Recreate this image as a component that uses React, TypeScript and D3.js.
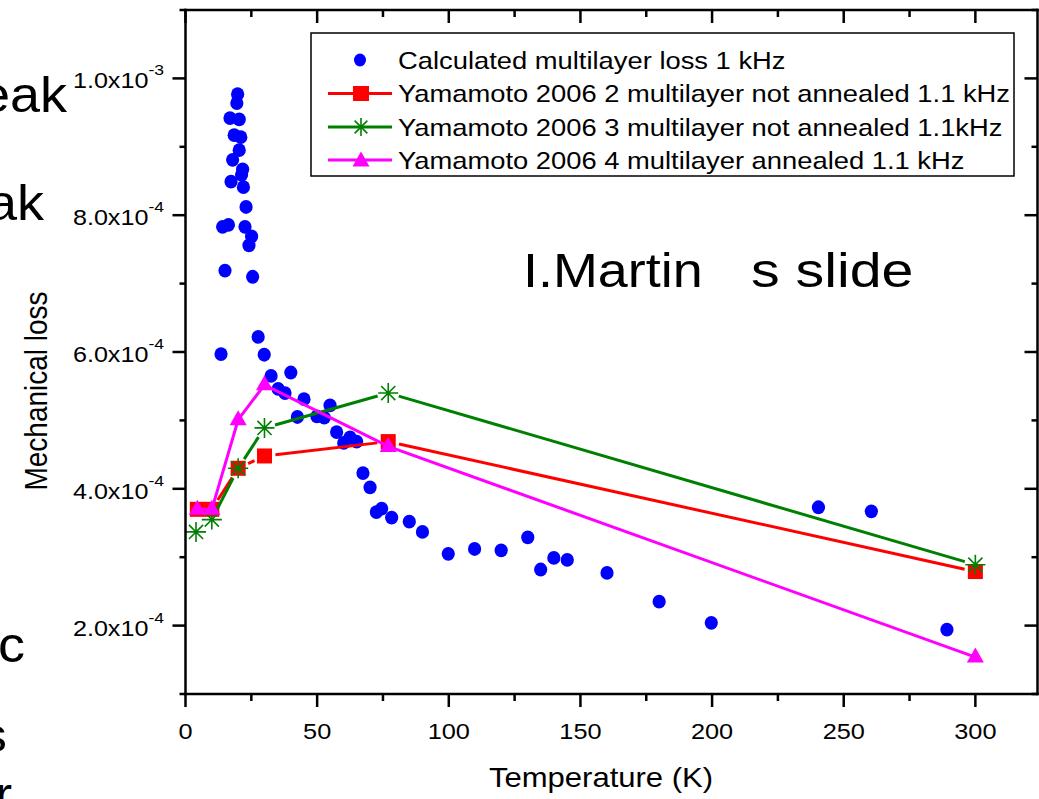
import React from 'react';
import * as d3 from 'd3';

const W = 1039;
const H = 799;
const FONT = "'Liberation Sans', Arial, Helvetica, sans-serif";

// Calculated multilayer loss 1 kHz (loss in units of 1e-4)
const calcT = [19.8, 19.5, 16.9, 20.4, 18.5, 21.0, 20.4, 17.9, 21.7, 21.3, 17.3, 22.0, 23.0, 14.1, 16.3, 22.6, 25.1, 24.1, 15.0, 25.5, 27.6, 13.5, 29.9, 32.5, 40.0, 35.2, 37.8, 45.0, 54.9, 42.5, 49.9, 52.7, 57.4, 60.1, 62.5, 65.0, 67.4, 70.1, 72.5, 74.5, 78.3, 85.0, 90.0, 99.8, 109.8, 119.9, 130.0, 134.9, 139.9, 145.0, 160.1, 179.9, 199.7, 240.4, 260.5, 289.2];
const calcLoss = [9.77, 9.64, 9.42, 9.40, 9.17, 9.14, 8.95, 8.81, 8.67, 8.59, 8.49, 8.41, 8.12, 7.83, 7.86, 7.83, 7.69, 7.56, 7.19, 7.10, 6.22, 5.97, 5.96, 5.65, 5.70, 5.46, 5.40, 5.31, 5.22, 5.05, 5.06, 5.04, 4.83, 4.67, 4.75, 4.69, 4.23, 4.02, 3.66, 3.71, 3.58, 3.52, 3.37, 3.05, 3.12, 3.10, 3.29, 2.82, 2.99, 2.96, 2.77, 2.35, 2.04, 3.73, 3.67, 1.94];

// Yamamoto 2006 2 multilayer not annealed 1.1 kHz
const y2T = [4.5, 10, 20, 30, 77, 300];
const y2Loss = [3.70, 3.70, 4.30, 4.48, 4.69, 2.79];
// Yamamoto 2006 3 multilayer not annealed 1.1kHz
const y3T = [4, 10, 20, 30, 77, 300];
const y3Loss = [3.37, 3.55, 4.30, 4.89, 5.40, 2.89];
// Yamamoto 2006 4 multilayer annealed 1.1 kHz
const y4T = [4.5, 10, 20, 30, 77, 300];
const y4Loss = [3.70, 3.70, 5.01, 5.52, 4.62, 1.54];

const legendLabels = [
  'Calculated multilayer loss 1 kHz',
  'Yamamoto 2006 2 multilayer not annealed 1.1 kHz',
  'Yamamoto 2006 3 multilayer not annealed 1.1kHz',
  'Yamamoto 2006 4 multilayer annealed 1.1 kHz',
];

const xMajor = [0, 50, 100, 150, 200, 250, 300];
const xMinor = [25, 75, 125, 175, 225, 275];
const yMajor = [2, 4, 6, 8, 10]; // ×1e-4
const yMinor = [1, 3, 5, 7, 9, 11];
const yMant = ['2.0x10', '4.0x10', '6.0x10', '8.0x10', '1.0x10'];
const yExp = ['-4', '-4', '-4', '-4', '-3'];

const BLUE = '#0000ff';
const RED = '#ff0000';
const GREEN = '#008000';
const MAGENTA = '#ff00ff';

function starPath(r: number) {
  const d = r * 0.7071;
  return `M0,${-r}V${r}M${-r},0H${r}M${-d},${-d}L${d},${d}M${-d},${d}L${d},${-d}`;
}
const triPath = 'M0,-9.5L8.5,5.5L-8.5,5.5Z';

function gapSegments(pts: [number, number][], gap: number) {
  const segs: [number, number, number, number][] = [];
  for (let i = 0; i < pts.length - 1; i++) {
    const [x0, y0] = pts[i];
    const [x1, y1] = pts[i + 1];
    const dx = x1 - x0, dy = y1 - y0;
    const len = Math.hypot(dx, dy);
    if (len <= 2 * gap + 1) continue;
    const ux = dx / len, uy = dy / len;
    segs.push([x0 + ux * gap, y0 + uy * gap, x1 - ux * gap, y1 - uy * gap]);
  }
  return segs;
}

function SText(props: { x: number; y: number; size: number; sx?: number; anchor?: string; children: React.ReactNode; family?: string; fill?: string }) {
  const { x, y, size, sx = 1.15, anchor = 'start', children, family = FONT, fill = '#000' } = props;
  return (
    <g transform={`translate(${x},${y}) scale(${sx},1)`}>
      <text x={0} y={0} fontSize={size} textAnchor={anchor as any} fontFamily={family} fill={fill}>
        {children}
      </text>
    </g>
  );
}

export default function App() {
  const x = d3.scaleLinear().domain([0, 323.6]).range([185.5, 1037.5]);
  const y = d3.scaleLinear().domain([1e-4, 1.1e-3]).range([694, 10]);
  const e4 = (v: number) => v * 1e-4;

  const left = x(0), right = x(323.6), top = y(1.1e-3), bottom = y(1e-4);

  const p2 = y2T.map((t, i) => [x(t), y(e4(y2Loss[i]))] as [number, number]);
  const p3 = y3T.map((t, i) => [x(t), y(e4(y3Loss[i]))] as [number, number]);
  const p4 = y4T.map((t, i) => [x(t), y(e4(y4Loss[i]))] as [number, number]);
  const line = d3.line();

  const legX0 = 328, legX1 = 392, legMid = 361, legTextX = 398;
  const legY = [60, 93.5, 127, 160];

  return (
    <svg width={W} height={H} style={{ position: 'absolute', left: 0, top: 0, background: '#fff' }}>
      <rect x={0} y={0} width={W} height={H} fill="#fff" />

      {/* cropped slide text fragments on the left */}
      <SText x={67} y={112} size={50} sx={1.08} anchor="end">eak</SText>
      <SText x={44} y={220} size={50} sx={1.08} anchor="end">ak</SText>
      <SText x={25} y={662} size={50} sx={1.08} anchor="end">c</SText>
      <SText x={7} y={752} size={48} sx={1.08} anchor="end">s</SText>
      <SText x={12} y={810} size={46} sx={1.08} anchor="end">r</SText>

      {/* data: calculated */}
      <g fill={BLUE}>
        {calcT.map((t, i) => (
          <ellipse key={i} cx={x(t)} cy={y(e4(calcLoss[i]))} rx={6.6} ry={6.9} />
        ))}
      </g>

      {/* Yamamoto 2 */}
      <g stroke={RED} strokeWidth={3} fill="none">
        {gapSegments(p2, 11).map((s, i) => (
          <line key={i} x1={s[0]} y1={s[1]} x2={s[2]} y2={s[3]} />
        ))}
      </g>
      <g fill={RED}>
        {p2.map((p, i) => (
          <rect key={i} x={p[0] - 7.5} y={p[1] - 7.5} width={15} height={15} />
        ))}
      </g>

      {/* Yamamoto 3 */}
      <g stroke={GREEN} strokeWidth={3} fill="none">
        {gapSegments(p3, 11).map((s, i) => (
          <line key={i} x1={s[0]} y1={s[1]} x2={s[2]} y2={s[3]} />
        ))}
      </g>
      <g stroke={GREEN} strokeWidth={1.6} fill="none">
        {p3.map((p, i) => (
          <path key={i} d={starPath(10)} transform={`translate(${p[0]},${p[1]})`} />
        ))}
      </g>

      {/* Yamamoto 4 */}
      <path d={line(p4) || ''} stroke={MAGENTA} strokeWidth={3} fill="none" />
      <g fill={MAGENTA}>
        {p4.map((p, i) => (
          <path key={i} d={triPath} transform={`translate(${p[0]},${p[1]})`} />
        ))}
      </g>

      {/* frame */}
      <g stroke="#000" strokeWidth={2.5} fill="none" strokeLinecap="square">
        <line x1={left} y1={top} x2={right} y2={top} />
        <line x1={left} y1={bottom} x2={right} y2={bottom} />
        <line x1={left} y1={top} x2={left} y2={bottom} />
        <line x1={right} y1={top} x2={right} y2={bottom} />
      </g>
      <g stroke="#000" strokeWidth={2.5}>
        {xMajor.map((t) => (
          <g key={'xm' + t}>
            <line x1={x(t)} x2={x(t)} y1={bottom} y2={bottom + 13} />
            <line x1={x(t)} x2={x(t)} y1={top} y2={top + 13} />
          </g>
        ))}
        {xMinor.map((t) => (
          <g key={'xn' + t}>
            <line x1={x(t)} x2={x(t)} y1={bottom} y2={bottom + 7} />
            <line x1={x(t)} x2={x(t)} y1={top} y2={top + 7} />
          </g>
        ))}
        {yMajor.map((v) => (
          <g key={'ym' + v}>
            <line x1={left - 13} x2={left} y1={y(e4(v))} y2={y(e4(v))} />
            <line x1={right - 13} x2={right} y1={y(e4(v))} y2={y(e4(v))} />
          </g>
        ))}
        {yMinor.map((v) => (
          <g key={'yn' + v}>
            <line x1={left - 6} x2={left} y1={y(e4(v))} y2={y(e4(v))} />
            <line x1={right - 6} x2={right} y1={y(e4(v))} y2={y(e4(v))} />
          </g>
        ))}
      </g>

      {/* tick labels */}
      {xMajor.map((t) => (
        <SText key={'xl' + t} x={x(t)} y={739} size={22} sx={1.15} anchor="middle">{String(t)}</SText>
      ))}
      {yMajor.map((v, i) => (
        <SText key={'yl' + v} x={164} y={y(e4(v)) + 10} size={21.5} sx={1.17} anchor="end">
          {yMant[i]}
          <tspan dy={-13} fontSize={15}>{yExp[i]}</tspan>
        </SText>
      ))}

      {/* axis titles */}
      <SText x={601} y={787} size={27} sx={1.15} anchor="middle">Temperature (K)</SText>
      <g transform="translate(47,391) rotate(-90) scale(1,1.1)">
        <text x={0} y={0} fontSize={28} textAnchor="middle" fontFamily={FONT}>Mechanical loss</text>
      </g>

      {/* annotation */}
      <SText x={523} y={287} size={49} sx={1.1}>I.Martin</SText>
      <SText x={751} y={287} size={49} sx={1.17}>s slide</SText>

      {/* legend */}
      <rect x={311} y={33} width={703} height={143} fill="#fff" stroke="#000" strokeWidth={1.5} />
      <ellipse cx={legMid - 1} cy={legY[0]} rx={6} ry={6.5} fill={BLUE} />
      <line x1={legX0} x2={legX1} y1={legY[1]} y2={legY[1]} stroke={RED} strokeWidth={3} />
      <rect x={legMid - 8} y={legY[1] - 7.5} width={16} height={15} fill={RED} />
      <line x1={legX0} x2={legX1} y1={legY[2]} y2={legY[2]} stroke={GREEN} strokeWidth={3} />
      <path d={starPath(9)} transform={`translate(${legMid},${legY[2]})`} stroke={GREEN} strokeWidth={1.6} fill="none" />
      <line x1={legX0} x2={legX1} y1={legY[3]} y2={legY[3]} stroke={MAGENTA} strokeWidth={3} />
      <path d={triPath} transform={`translate(${legMid},${legY[3] + 1})`} fill={MAGENTA} />
      {legendLabels.map((l, i) => (
        <SText key={l} x={legTextX} y={legY[i] + 8.5} size={24} sx={1.14}>{l}</SText>
      ))}
    </svg>
  );
}
